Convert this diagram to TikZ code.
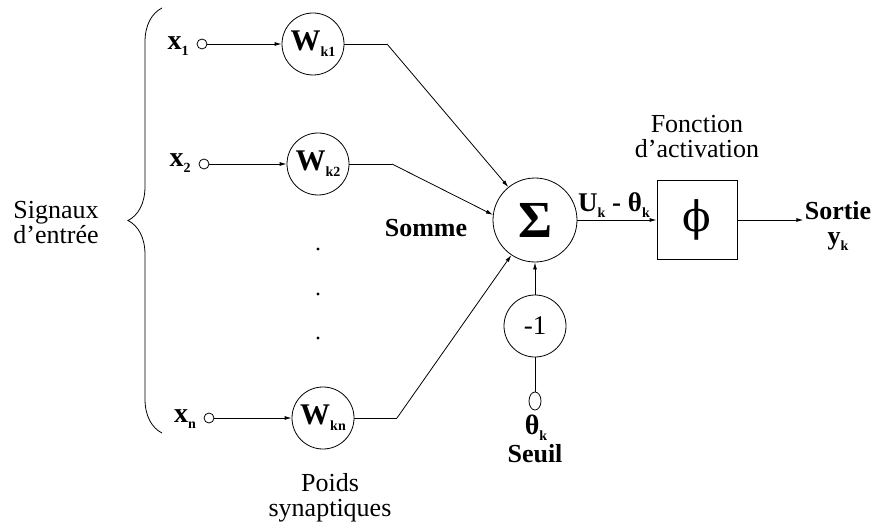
\documentclass[tikz,border=0pt]{standalone}
\usepackage{fontspec}
\setmainfont{Liberation Serif}
\newfontfamily\phifont{DejaVu Serif}
\usetikzlibrary{arrows.meta,decorations.pathreplacing,shapes.geometric}
\newcommand{\idx}[2]{\textbf{#1}\raisebox{-0.45ex}{\fontsize{14}{14}\selectfont\textbf{#2}}}

\begin{document}
\begin{tikzpicture}[x=1pt,y=-1pt,line width=0.8pt,
    txt/.style={font=\fontsize{26}{25}\selectfont,inner sep=1pt,align=center},
    btxt/.style={txt,font=\fontsize{26}{25}\selectfont\bfseries},
    syn/.style={draw,circle,minimum size=62pt,inner sep=0pt,font=\fontsize{30}{25}\selectfont},
    port/.style={draw,circle,minimum size=10pt,inner sep=0pt},
    link/.style={-{Latex[length=7pt,width=4pt]}}]
  \useasboundingbox (0,0) rectangle (874,529);
  %\draw[help lines] (0,0) grid[step=50] (874,529);
  % entrees
  \node[txt] (sigin) at (56,223) {Signaux\\d'entrée};
  \draw[decorate,decoration={brace,amplitude=34pt}] (162,433) -- (162,8);
  \node[txt,font=\fontsize{28}{25}\selectfont] (x1) at (178,46) {\idx{x}{1}};
  \node[port] (p1) at (202,44) {};
  \node[syn] (w1) at (313,44) {\idx{W}{k1}};
  \node[txt,font=\fontsize{28}{25}\selectfont] (x2) at (180,163) {\idx{x}{2}};
  \node[port] (p2) at (204,164) {};
  \node[syn] (w2) at (318,164) {\idx{W}{k2}};
  \node[txt,font=\fontsize{28}{25}\selectfont] (xn) at (185,419) {\idx{x}{n}};
  \node[port] (pn) at (209,418) {};
  \node[syn] (wn) at (323,418) {\idx{W}{kn}};
  \fill (318,249) circle (1.7) (318,294) circle (1.7) (318,338) circle (1.7);
  \node[txt] (poids) at (330,498) {Poids\\synaptiques};
  \draw[link] (p1) -- (w1);
  \draw[link] (p2) -- (w2);
  \draw[link] (pn) -- (wn);
  % somme et seuil
  \node[draw,circle,minimum size=84pt,inner sep=0pt,
    font=\fontsize{52}{52}\selectfont\bfseries] (sig) at (535,220) {Σ};
  \node[btxt] (somme) at (426,228) {Somme};
  \coordinate (b1) at (387,44);
  \coordinate (b2) at (392,164);
  \coordinate (bn) at (397,418);
  \draw (w1) -- (b1);
  \draw (w2) -- (b2);
  \draw (wn) -- (bn);
  \draw[link] (b1) -- (sig.129);
  \draw[link] (b2) -- (sig.173);
  \draw[link] (bn) -- (sig.236);
  \node[syn,font=\fontsize{27}{25}\selectfont] (m1) at (535,326) {-1};
  \node[draw,ellipse,minimum width=12pt,minimum height=18pt,inner sep=0pt] (th) at (535,401) {};
  \draw[link] (m1) -- (sig);
  \draw (th) -- (m1);
  \node[txt,font=\fontsize{28}{25}\selectfont] (thl) at (536,428) {\idx{θ}{k}};
  \node[btxt] (seuil) at (535,454) {Seuil};
  % activation et sortie
  \node[draw,minimum width=80pt,minimum height=79pt,inner sep=0pt,
    font=\fontsize{42}{42}\phifont] (phi) at (697,220) {ϕ};
  \node[txt] (fa) at (697,137) {Fonction\\d'activation};
  \node[txt,font=\fontsize{27}{25}\selectfont] (u) at (614,205) {\idx{U}{k} \textbf{-} \idx{θ}{k}};
  \draw[link] (sig) -- (phi);
  \node[btxt] (out) at (838,226) {Sortie\\\idx{y}{k}};
  \draw[link] (phi) -- (phi -| out.west);
\end{tikzpicture}
\end{document}
